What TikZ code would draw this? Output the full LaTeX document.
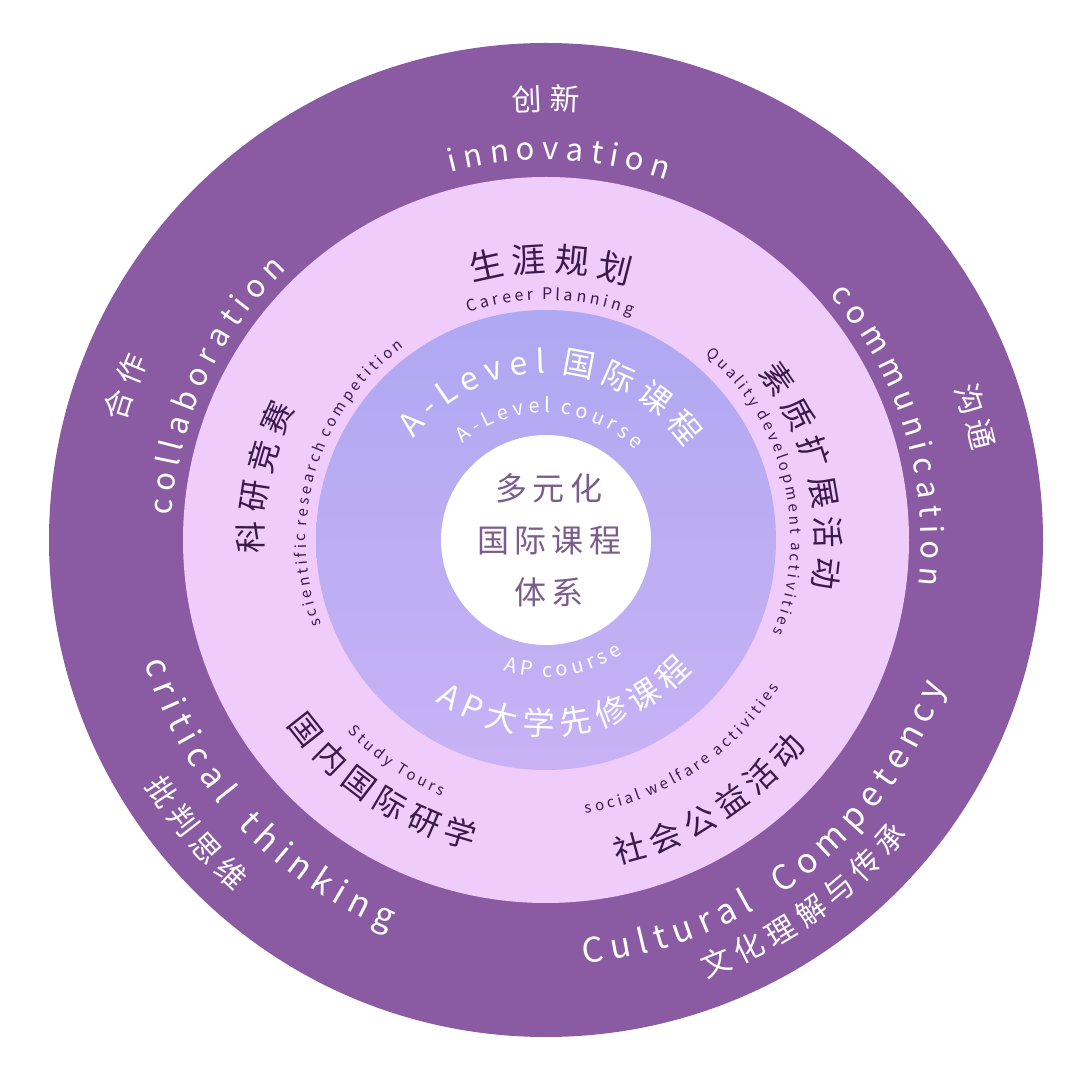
\documentclass[tikz,border=0pt]{standalone}
\usepackage{fontspec}
\setmainfont{Noto Sans CJK SC}
\usetikzlibrary{decorations.text}
\definecolor{outerc}{HTML}{8A5BA3}
\definecolor{pinkc}{HTML}{EFCCFA}
\definecolor{lavtop}{HTML}{AFA8F2}
\definecolor{lavbot}{HTML}{C8B2F5}
\definecolor{darkc}{HTML}{3A1A4C}
\definecolor{midc}{HTML}{7B5C8C}
\newcommand\arctxt[6]{%
 \path[decorate,decoration={text along path,text align=center,text color=#5,
   text={|\fontsize{#4}{#4}\selectfont|#6}}] (C) ++(#2:#1) arc (#2:#3:#1);}
\begin{document}
\begin{tikzpicture}[x=1pt,y=1pt]
\useasboundingbox[fill=white] (0,0) rectangle (1080,1080);
\coordinate (C) at (546,540);
\fill[outerc] (C) circle (497);
\fill[pinkc] (C) circle (363);
\shade[top color=lavtop,bottom color=lavbot] (C) circle (230);
\fill[white] (C) circle (105);
% outer ring
\arctxt{430}{100}{80}{30}{white}{创 新}
\arctxt{380}{115}{61}{31}{white}{i n n o v a t i o n}
\arctxt{437}{172}{148}{30}{white}{合 作}
\arctxt{375}{190}{120}{31}{white}{c o l l a b o r a t i o n}
\arctxt{436}{30}{2}{30}{white}{沟 通}
\arctxt{375}{50}{-16}{31}{white}{c o m m u n i c a t i o n}
\arctxt{420}{180}{265}{34}{white}{c r i t i c a l{\hspace{0.8em}}t h i n k i n g}
\arctxt{470}{200}{240}{30}{white}{批 判 思 维}
\arctxt{425}{-105}{0}{34}{white}{C u l t u r a l{\hspace{0.9em}}C o m p e t e n c y}
\arctxt{467}{-84}{-25}{30}{white}{文 化 理 解 与 传 承}
% pink ring
\arctxt{268}{112}{66}{34}{darkc}{生 涯 规 划}
\arctxt{240}{112}{66}{16}{darkc}{C a r e e r{\hspace{0.5em}}P l a n n i n g}
\arctxt{283}{195}{140}{32}{darkc}{科 研 竞 赛}
\arctxt{240}{215}{112}{15}{darkc}{s c i e n t i f i c{\hspace{0.5em}}r e s e a r c h{\hspace{0.5em}}c o m p e t i t i o n}
\arctxt{270}{55}{-27}{32}{darkc}{素 质 扩 展 活 动}
\arctxt{245}{62}{-35}{15}{darkc}{Q u a l i t y{\hspace{0.5em}}d e v e l o p m e n t{\hspace{0.5em}}a c t i v i t i e s}
\arctxt{318}{205}{267}{32}{darkc}{国 内 国 际 研 学}
\arctxt{276}{215}{257}{15}{darkc}{S t u d y{\hspace{0.5em}}T o u r s}
\arctxt{332}{-99}{-17}{32}{darkc}{社 会 公 益 活 动}
\arctxt{276}{-97}{-17}{15}{darkc}{s o c i a l{\hspace{0.5em}}w e l f a r e{\hspace{0.5em}}a c t i v i t i e s}
% lavender ring
\arctxt{167}{160}{16}{32}{white}{A - L e v e l{\hspace{0.5em}}国 际 课 程}
\arctxt{127}{150}{26}{20}{white}{A - L e v e l{\hspace{0.5em}}c o u r s e}
\arctxt{137}{-125}{-39}{20}{white}{A P{\hspace{0.5em}}c o u r s e}
\arctxt{195}{-145}{-21}{32}{white}{A P 大 学 先 修 课 程}
% center
\node[text=midc,font=\fontsize{32}{52}\selectfont,align=center] (ctr) at (549,540) {多\,元\,化\\国\,际\,课\,程\\体\,系};
\end{tikzpicture}
\end{document}
